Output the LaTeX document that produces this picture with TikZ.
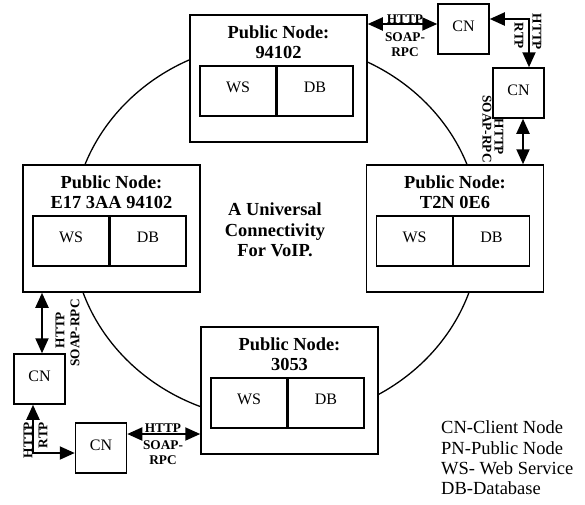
\documentclass[tikz,border=0pt]{standalone}
\usepackage{fontspec}
\setmainfont{Liberation Serif}
\usetikzlibrary{arrows.meta}
\begin{document}
\begin{tikzpicture}[x=1pt,y=-1pt,
  pnbox/.style={draw, line width=1.5pt, fill=white, minimum width=177pt, minimum height=127pt, inner sep=0pt},
  inbox/.style={draw, line width=1.5pt, minimum width=76pt, minimum height=50pt, inner sep=0pt, text depth=7pt, font=\fontsize{16}{18}\selectfont},
  cnbox/.style={draw, line width=1.5pt, fill=white, minimum width=51pt, minimum height=50pt, inner sep=0pt, text depth=6pt, font=\fontsize{16}{18}\selectfont},
  ttl/.style={font=\bfseries\fontsize{18.4}{20}\selectfont, inner sep=0pt},
  lbl/.style={font=\bfseries\fontsize{13.3}{15}\selectfont, inner sep=0pt},
  dbl/.style={line width=2pt, {Triangle[length=15pt,width=13pt]}-{Triangle[length=15pt,width=13pt]}},
]
\useasboundingbox (0,0) rectangle (585,504);
\fill[white] (0,0) rectangle (585,504);

% ring
\draw[line width=1.3pt] (276,231) ellipse [x radius=204, y radius=189];

% public nodes
\node[pnbox] (pnT) at (278.5,78.5) {};
\node[pnbox] (pnR) at (455,228.5) {};
\node[pnbox] (pnL) at (111.5,228.5) {};
\node[pnbox] (pnB) at (289.5,390.5) {};

\foreach \p/\sub in {pnT/94102, pnR/T2N 0E6, pnL/E17 3AA 94102, pnB/3053}{
  \node[ttl] (\p t1) at ([yshift=-18pt]\p.north) {Public Node:};
  \node[ttl] (\p t2) at ([yshift=-38pt]\p.north) {\sub};
  \node[inbox, anchor=north west] (\p ws) at ([xshift=10pt,yshift=-51pt]\p.north west) {WS};
  \node[inbox, anchor=north west] (\p db) at ([xshift=87pt,yshift=-51pt]\p.north west) {DB};
}

% center text
\node[ttl, align=center, font=\bfseries\fontsize{18.4}{20.5}\selectfont] (title) at (275,230) {A Universal\\Connectivity\\For VoIP.};

% client nodes
\node[cnbox] (cn1) at (463.5,29) {CN};
\node[cnbox] (cn2) at (518.5,93) {CN};
\node[cnbox] (cn3) at (39.5,379) {CN};
\node[cnbox] (cn4) at (101,448) {CN};

% connectors
\draw[dbl] ([yshift=5pt]cn1.west -| pnT.east) -- ([yshift=5pt]cn1.west);
\node[lbl] (l1a) at (405,19) {HTTP};
\node[lbl] (l1b) at (405,37) {SOAP-};
\node[lbl] (l1c) at (405,52) {RPC};

\draw[dbl] ([yshift=10pt]cn1.east) -| ([xshift=10.5pt]cn2.north);
\node[lbl, rotate=-90] (l2a) at (537,32) {HTTP};
\node[lbl, rotate=-90] (l2b) at (519,36) {RTP};

\draw[dbl] ([xshift=4.5pt]cn2.south) -- ([xshift=4.5pt]cn2.south |- pnR.north);
\node[lbl, rotate=-90] (l3a) at (499,137) {HTTP};
\node[lbl, rotate=-90] (l3b) at (487,129) {SOAP-RPC};

\draw[dbl] ([xshift=2.5pt]cn3.north |- pnL.south) -- ([xshift=2.5pt]cn3.north);
\node[lbl, rotate=90] (l4a) at (60,330) {HTTP};
\node[lbl, rotate=90] (l4b) at (75,333) {SOAP-RPC};

\draw[dbl] ([xshift=-6.5pt]cn3.south) |- ([yshift=-5pt]cn4.west);
\node[lbl, rotate=90] (l5a) at (28,440) {HTTP};
\node[lbl, rotate=90] (l5b) at (43,435) {RTP};

\draw[dbl] ([yshift=14pt]cn4.east) -- ([yshift=14pt]cn4.east -| pnB.west);
\node[lbl] (l6a) at (163,428) {HTTP};
\node[lbl] (l6b) at (163,445) {SOAP-};
\node[lbl] (l6c) at (163,460) {RPC};

% legend
\node[anchor=west, align=left, inner sep=0pt, font=\fontsize{18.5}{20.3}\selectfont] (legend) at (441,458)
  {CN-Client Node\\PN-Public Node\\WS- Web Service\\DB-Database};
\end{tikzpicture}
\end{document}
